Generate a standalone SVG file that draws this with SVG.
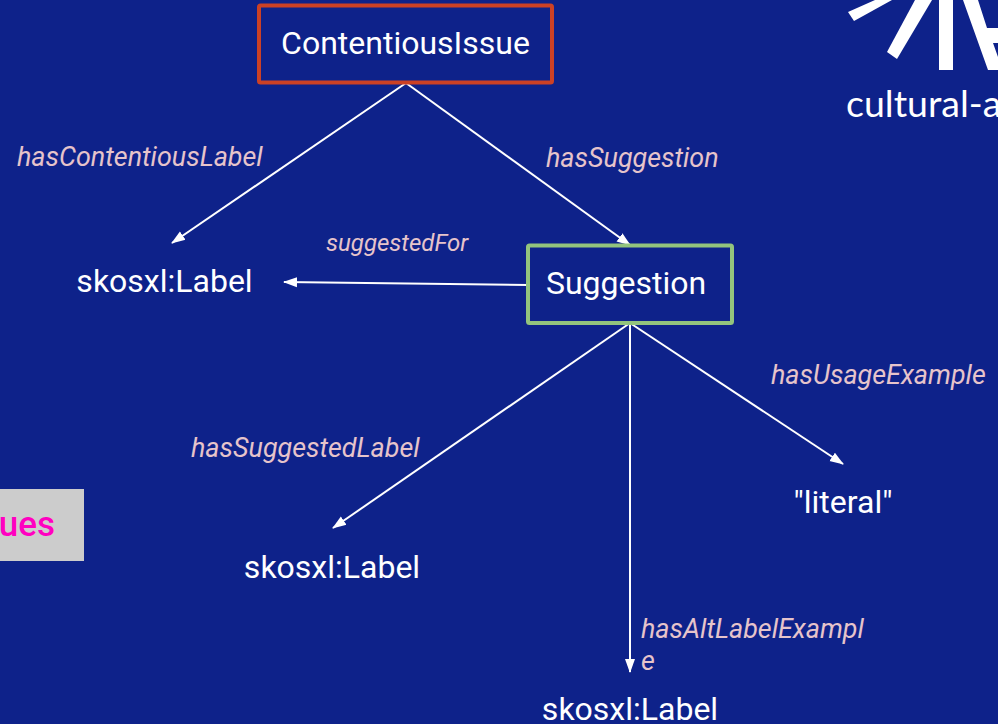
<svg xmlns="http://www.w3.org/2000/svg" width="998" height="724" viewBox="0 0 998 724">
<style>
.t{font-family:Roboto,"Liberation Sans",sans-serif;font-size:32px;fill:#fff}
.e{font-family:Roboto,"Liberation Sans",sans-serif;font-size:26.900px;font-style:italic;fill:#e6c4cb}
.c{stroke:#fff;stroke-width:2;fill:none;marker-end:url(#a)}
</style>
<defs><marker id="a" markerUnits="userSpaceOnUse" markerWidth="14" markerHeight="12" refX="13" refY="5" orient="auto" viewBox="0 0 14 10"><path d="M0 0L14 5L0 10Z" fill="#fff"/></marker></defs>
<rect width="998" height="724" fill="#0e228a"/>
<g id="logo" fill="#fff">
<path d="M848 12L875 0H892L854 21Z"/>
<path d="M915 0H932L897 59L887 52Z"/>
<rect x="939" y="0" width="14" height="70"/>
<path d="M963 0H978L987 28H998V43H993L998 57V70H988Z"/>
<text x="846" y="117" style="font-family:Lato,'Open Sans',sans-serif;font-size:37.500px;font-weight:400;fill:#fff">cultural-a</text>
</g>
<g id="button"><rect x="-10" y="489" width="94" height="72" fill="#cccccc"/>
<text x="55" y="536" text-anchor="end" style="font-family:Roboto,'Liberation Sans',sans-serif;font-size:35px;font-weight:500;fill:#ff00c0">ues</text></g>
<g id="connectors">
<path class="c" d="M406 83L172 243"/>
<path class="c" d="M406 83L630 245"/>
<path class="c" d="M528 285L284 282"/>
<path class="c" d="M630 323L333 528"/>
<path class="c" d="M630 323V672"/>
<path class="c" d="M630 323L843 464"/>
</g>
<g id="n1"><rect x="259" y="5.500" width="293" height="77" rx="1.500" fill="none" stroke="#cc4125" stroke-width="4"/><text class="t" x="405.500" y="54" text-anchor="middle">ContentiousIssue</text></g>
<g id="n2"><rect x="528" y="245.500" width="204" height="77.500" rx="1.500" fill="#0e228a" stroke="#93c47d" stroke-width="4"/><text class="t" x="626" y="294" text-anchor="middle">Suggestion</text></g>
<g id="n3"><text class="t" x="164.500" y="292" text-anchor="middle">skosxl:Label</text></g>
<g id="n4"><text class="t" x="332" y="578" text-anchor="middle">skosxl:Label</text></g>
<g id="n5"><text class="t" x="630" y="720" text-anchor="middle">skosxl:Label</text></g>
<g id="n6"><text class="t" x="843" y="513" text-anchor="middle">"literal"</text></g>
<g id="edge-labels">
<text class="e" x="17" y="166">hasContentiousLabel</text>
<text class="e" x="546" y="167">hasSuggestion</text>
<text class="e" x="326" y="251" style="font-size:24px">suggestedFor</text>
<text class="e" x="771" y="384">hasUsageExample</text>
<text class="e" x="191" y="457">hasSuggestedLabel</text>
<text class="e" x="641" y="638">hasAltLabelExampl</text>
<text class="e" x="641" y="670">e</text>
</g>
</svg>
